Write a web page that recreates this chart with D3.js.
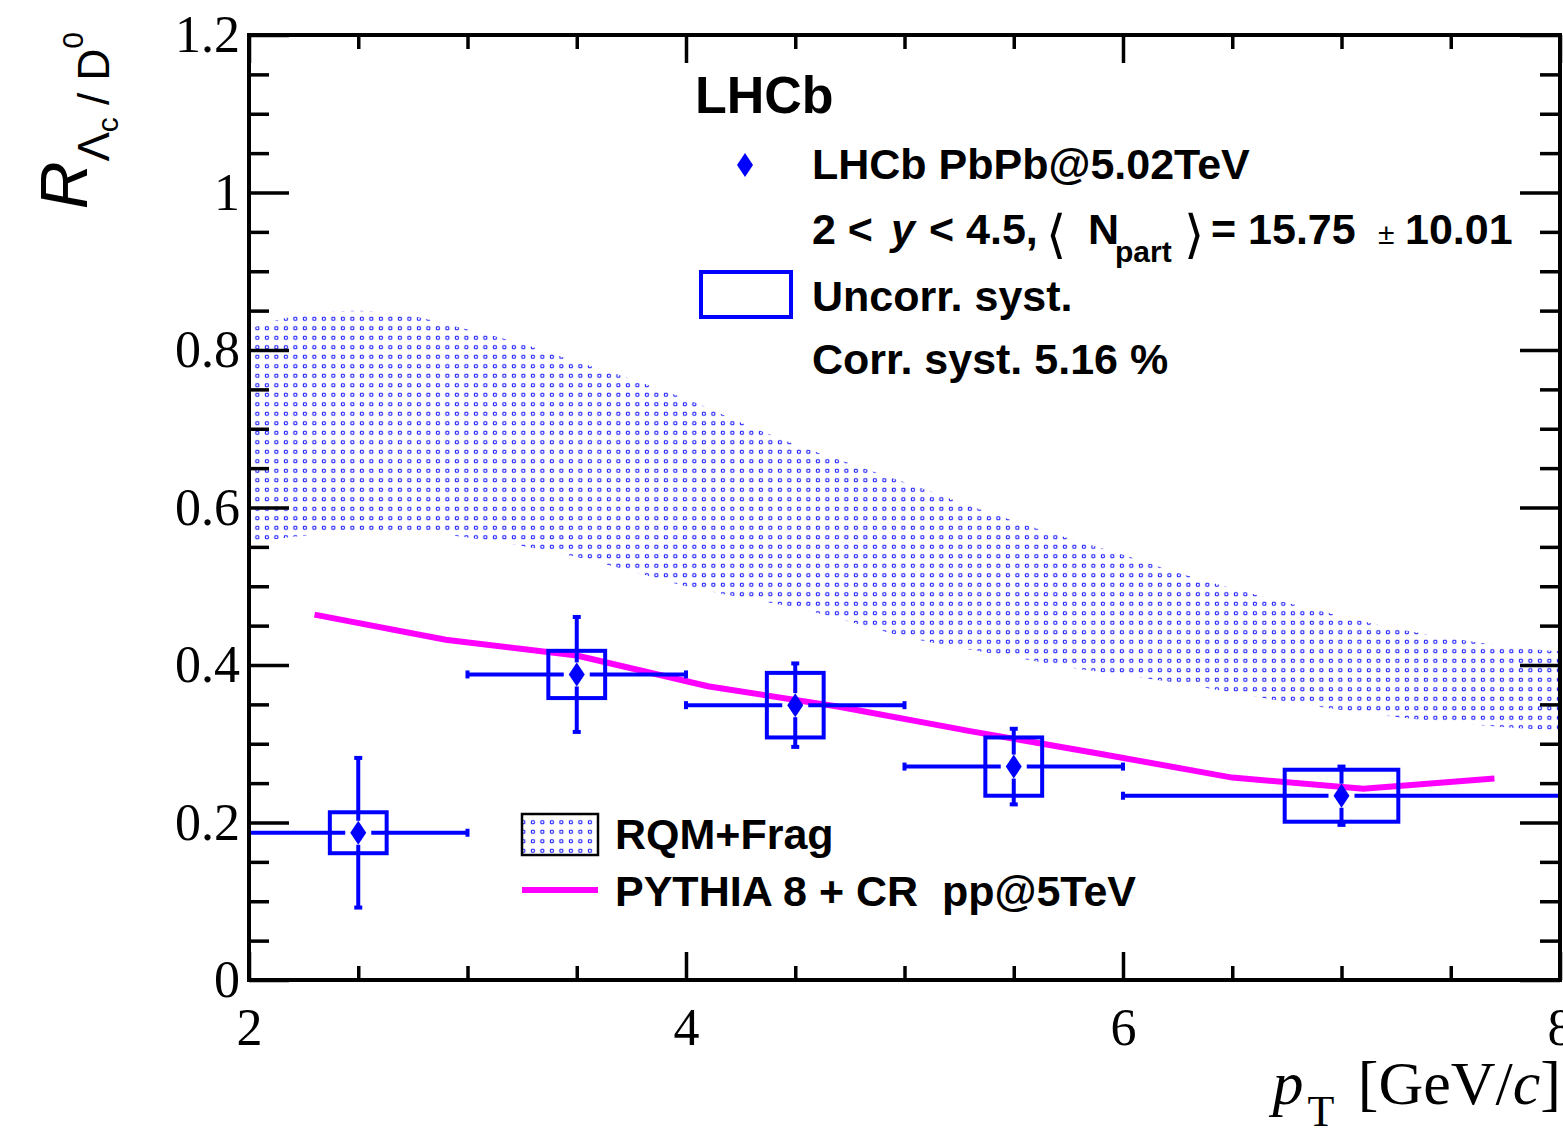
<!DOCTYPE html>
<html>
<head>
<meta charset="utf-8">
<script src="https://cdn.jsdelivr.net/npm/d3@7"></script>
<style>
  body { margin: 0; background: #fff; }
  svg { display: block; }
</style>
</head>
<body>
<div class="visualization"></div>
<script>
// LHCb Lambda_c / D0 ratio in PbPb, points with stat bars + uncorrelated syst boxes
const ptCenter = [2.5, 3.5, 4.5, 5.5, 7.0];
const ptLow = [2, 3, 4, 5, 6];
const ptHigh = [3, 4, 5, 6, 8];
const ratio = [0.187, 0.388, 0.349, 0.271, 0.234];
const statErr = [0.095, 0.073, 0.053, 0.048, 0.037];
const systErr = [0.026, 0.030, 0.041, 0.037, 0.033];
const systHalfWidth = [0.13, 0.13, 0.13, 0.13, 0.26];

// RQM+Frag band
const rqmPt = [2.0, 2.25, 2.5, 2.75, 3.0, 3.25, 3.5, 3.75, 4.0, 4.25, 4.5, 4.75, 5.0,
  5.25, 5.5, 5.75, 6.0, 6.25, 6.5, 6.75, 7.0, 7.25, 7.5, 7.75, 8.0];
const rqmHigh = [0.827, 0.845, 0.850, 0.843, 0.826, 0.808, 0.785, 0.763, 0.738, 0.708, 0.680,
  0.656, 0.632, 0.607, 0.583, 0.561, 0.540, 0.517, 0.497, 0.479, 0.462, 0.446, 0.434, 0.424, 0.417];
const rqmLow = [0.555, 0.564, 0.569, 0.569, 0.562, 0.551, 0.537, 0.519, 0.500, 0.486, 0.473,
  0.455, 0.436, 0.422, 0.410, 0.397, 0.387, 0.377, 0.365, 0.353, 0.343, 0.334, 0.327, 0.321, 0.317];

// PYTHIA 8 + CR pp@5TeV
const pythiaPt = [2.3, 2.9, 3.5, 4.1, 4.7, 5.3, 5.9, 6.5, 7.1, 7.7];
const pythiaRatio = [0.464, 0.432, 0.412, 0.373, 0.347, 0.316, 0.287, 0.257, 0.243, 0.256];

const xMajor = [2, 4, 6, 8];
const xMinor = [2.5, 3, 3.5, 4.5, 5, 5.5, 6.5, 7, 7.5];
const yMajor = [0, 0.2, 0.4, 0.6, 0.8, 1.0, 1.2];
const yMinor = d3.range(0, 24).map(i => i * 0.05).filter(v => Math.round(v * 100) % 20 !== 0);

const BLUE = "#0000ff";
const MAGENTA = "#ff00ff";
const SERIF = "'Liberation Serif', 'Times New Roman', serif";
const SANS = "'Liberation Sans', Arial, Helvetica, sans-serif";

const svg = d3.select(".visualization")
  .append("svg")
  .attr("width", 1563)
  .attr("height", 1135);

svg.append("rect").attr("width", 1563).attr("height", 1135).attr("fill", "#fff");

const x = d3.scaleLinear().domain([2, 8]).range([249, 1560]);
const y = d3.scaleLinear().domain([0, 1.2]).range([980, 35]);

const defs = svg.append("defs");
const pat = defs.append("pattern")
  .attr("id", "dots")
  .attr("patternUnits", "userSpaceOnUse")
  .attr("x", -3.9).attr("y", 0.5)
  .attr("width", 9.5).attr("height", 9.5);
pat.append("circle")
  .attr("cx", 4.75).attr("cy", 4.75).attr("r", 1.7)
  .attr("fill", "none").attr("stroke", BLUE).attr("stroke-width", 1);

// band
const bandData = rqmPt.map((p, i) => ({ pt: p, lo: rqmLow[i], hi: rqmHigh[i] }));
svg.append("path")
  .datum(bandData)
  .attr("fill", "url(#dots)")
  .attr("d", d3.area()
    .x(d => x(d.pt))
    .y0(d => y(d.lo))
    .y1(d => y(d.hi))
    .curve(d3.curveMonotoneX));

// pythia
svg.append("path")
  .datum(pythiaPt.map((p, i) => [p, pythiaRatio[i]]))
  .attr("fill", "none")
  .attr("stroke", MAGENTA)
  .attr("stroke-width", 6)
  .attr("d", d3.line().x(d => x(d[0])).y(d => y(d[1])));

// data points
const pts = ptCenter.map((c, i) => ({
  c, lo: ptLow[i], hi: ptHigh[i], v: ratio[i], stat: statErr[i], syst: systErr[i], hw: systHalfWidth[i]
}));
const gPts = svg.append("g").attr("stroke", BLUE).attr("stroke-width", 4).attr("fill", "none");
const gapX = 13, gapY = 12, cap = 4;
pts.forEach(d => {
  const cx = x(d.c), cy = y(d.v);
  const g = gPts.append("g");
  g.append("rect")
    .attr("x", x(d.c - d.hw)).attr("y", y(d.v + d.syst))
    .attr("width", x(d.c + d.hw) - x(d.c - d.hw))
    .attr("height", y(d.v - d.syst) - y(d.v + d.syst));
  // horizontal bar
  g.append("line").attr("x1", x(d.lo)).attr("x2", cx - gapX).attr("y1", cy).attr("y2", cy);
  g.append("line").attr("x1", cx + gapX).attr("x2", x(d.hi)).attr("y1", cy).attr("y2", cy);
  g.append("line").attr("x1", x(d.lo)).attr("x2", x(d.lo)).attr("y1", cy - cap).attr("y2", cy + cap);
  g.append("line").attr("x1", x(d.hi)).attr("x2", x(d.hi)).attr("y1", cy - cap).attr("y2", cy + cap);
  // vertical bar
  const yt = y(d.v + d.stat), yb = y(d.v - d.stat);
  g.append("line").attr("x1", cx).attr("x2", cx).attr("y1", yt).attr("y2", cy - gapY);
  g.append("line").attr("x1", cx).attr("x2", cx).attr("y1", cy + gapY).attr("y2", yb);
  g.append("line").attr("x1", cx - cap).attr("x2", cx + cap).attr("y1", yt).attr("y2", yt);
  g.append("line").attr("x1", cx - cap).attr("x2", cx + cap).attr("y1", yb).attr("y2", yb);
  g.append("path")
    .attr("d", `M${cx},${cy - 12}L${cx + 8},${cy}L${cx},${cy + 12}L${cx - 8},${cy}Z`)
    .attr("fill", BLUE).attr("stroke", "none");
});

// axes
function styleAxis(g) {
  g.select(".domain").remove();
  g.selectAll(".tick line").attr("stroke", "#000").attr("stroke-width", 3.5);
  g.attr("font-family", SERIF).attr("font-size", 52);
  g.selectAll(".tick text").attr("fill", "#000");
}
const yFmt = d => (d === 0 ? "0" : d === 1 ? "1" : d3.format(".1f")(d));

svg.append("g").attr("transform", "translate(0,980)")
  .call(d3.axisBottom(x).tickValues(xMajor).tickSize(-28).tickSizeOuter(0).tickPadding(28).tickFormat(d3.format("d")))
  .call(styleAxis);
svg.append("g").attr("transform", "translate(0,980)")
  .call(d3.axisBottom(x).tickValues(xMinor).tickSize(-14).tickSizeOuter(0).tickFormat(""))
  .call(styleAxis);
svg.append("g").attr("transform", "translate(0,35)")
  .call(d3.axisTop(x).tickValues(xMajor).tickSize(-28).tickSizeOuter(0).tickFormat(""))
  .call(styleAxis);
svg.append("g").attr("transform", "translate(0,35)")
  .call(d3.axisTop(x).tickValues(xMinor).tickSize(-14).tickSizeOuter(0).tickFormat(""))
  .call(styleAxis);
svg.append("g").attr("transform", "translate(249,0)")
  .call(d3.axisLeft(y).tickValues(yMajor).tickSize(-40).tickSizeOuter(0).tickPadding(9).tickFormat(yFmt))
  .call(styleAxis);
svg.append("g").attr("transform", "translate(249,0)")
  .call(d3.axisLeft(y).tickValues(yMinor).tickSize(-20).tickSizeOuter(0).tickFormat(""))
  .call(styleAxis);
svg.append("g").attr("transform", "translate(1560,0)")
  .call(d3.axisRight(y).tickValues(yMajor).tickSize(-40).tickSizeOuter(0).tickFormat(""))
  .call(styleAxis);
svg.append("g").attr("transform", "translate(1560,0)")
  .call(d3.axisRight(y).tickValues(yMinor).tickSize(-20).tickSizeOuter(0).tickFormat(""))
  .call(styleAxis);

svg.append("rect")
  .attr("x", 249).attr("y", 35)
  .attr("width", 1560 - 249).attr("height", 980 - 35)
  .attr("fill", "none").attr("stroke", "#000").attr("stroke-width", 4);

// axis titles
const xt = svg.append("text")
  .attr("x", 1561).attr("y", 1104)
  .attr("text-anchor", "end")
  .attr("font-family", SERIF).attr("font-size", 62);
xt.append("tspan").attr("font-style", "italic").text("p");
xt.append("tspan").attr("font-size", 44).attr("dx", 4).attr("dy", 22).text("T");
xt.append("tspan").attr("dx", 8).attr("dy", -22).text("\u00a0[GeV/");
xt.append("tspan").attr("font-style", "italic").text("c");
xt.append("tspan").text("]");

const yt = svg.append("text")
  .attr("transform", "translate(87,32) rotate(-90)")
  .attr("text-anchor", "end")
  .attr("font-family", SANS).attr("font-size", 66);
yt.append("tspan").attr("font-style", "italic").text("R");
yt.append("tspan").attr("font-size", 44).attr("dy", 22).text("Λ");
yt.append("tspan").attr("font-size", 30).attr("dy", 9).text("c");
yt.append("tspan").attr("font-size", 44).attr("dy", -9).text("\u00a0/ D");
yt.append("tspan").attr("font-size", 30).attr("dy", -26).text("0");

// top legend
const txt = (xx, yy, s, size) => svg.append("text")
  .attr("x", xx).attr("y", yy)
  .attr("font-family", SANS).attr("font-weight", "bold")
  .attr("font-size", size || 43).text(s);

txt(695, 113, "LHCb", 52);
svg.append("path")
  .attr("d", "M745,153L753,165L745,177L737,165Z")
  .attr("fill", BLUE);
txt(812, 179, "LHCb PbPb@5.02TeV");

const l2 = svg.append("text").attr("y", 244)
  .attr("font-family", SANS).attr("font-weight", "bold").attr("font-size", 43);
l2.append("tspan").attr("x", 812).text("2 <");
l2.append("tspan").attr("x", 891).attr("font-style", "italic").text("y");
l2.append("tspan").attr("x", 929).text("< 4.5,");
l2.append("tspan").attr("x", 1046).attr("y", 252).attr("font-weight", "normal")
  .attr("font-family", "'DejaVu Sans', sans-serif").attr("font-size", 52).text("⟨");
l2.append("tspan").attr("x", 1088).attr("y", 244).text("N");
l2.append("tspan").attr("x", 1115).attr("y", 262).attr("font-size", 30).text("part");
l2.append("tspan").attr("x", 1184).attr("y", 252).attr("font-weight", "normal")
  .attr("font-family", "'DejaVu Sans', sans-serif").attr("font-size", 52).text("⟩");
l2.append("tspan").attr("x", 1211).attr("y", 244).text("= 15.75");
l2.append("tspan").attr("x", 1378).attr("font-weight", "normal").attr("font-size", 30).text("±");
l2.append("tspan").attr("x", 1405).text("10.01");

svg.append("rect")
  .attr("x", 701).attr("y", 272).attr("width", 90).attr("height", 45)
  .attr("fill", "none").attr("stroke", BLUE).attr("stroke-width", 4);
txt(812, 311, "Uncorr. syst.");
txt(812, 374, "Corr. syst. 5.16 %");

// bottom legend
svg.append("rect")
  .attr("x", 522).attr("y", 814).attr("width", 76).attr("height", 41)
  .attr("fill", "url(#dots)").attr("stroke", "#000").attr("stroke-width", 2.5);
txt(615, 849, "RQM+Frag");
svg.append("line")
  .attr("x1", 522).attr("x2", 598).attr("y1", 890).attr("y2", 890)
  .attr("stroke", MAGENTA).attr("stroke-width", 6);
txt(615, 906, "PYTHIA 8 + CR\u00a0\u00a0pp@5TeV");
</script>
</body>
</html>
